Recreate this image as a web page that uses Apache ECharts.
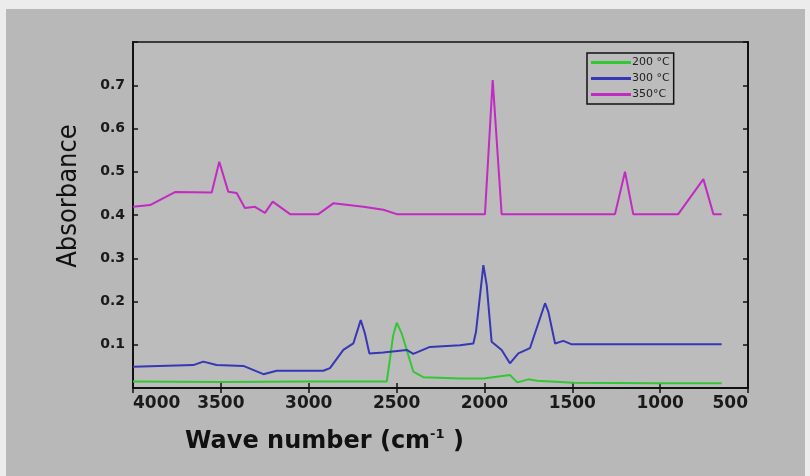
<!DOCTYPE html>
<html>
<head>
<meta charset="utf-8">
<script src="https://cdn.jsdelivr.net/npm/echarts@6/dist/echarts.min.js"></script>
<style>
  html, body { margin: 0; padding: 0; background: #ececec; }
  #main { width: 810px; height: 476px; }
</style>
</head>
<body>
<div id="main"></div>
<script>
// FTIR spectra (x = wave number cm-1, y = absorbance)
var seriesNames = ['200 °C', '300 °C', '350°C'];

var wave200 = [4000, 3500, 3000, 2556, 2540, 2520, 2499, 2470, 2442, 2405, 2348, 2139, 2006, 1855, 1813, 1750, 1700, 1494, 1000, 650];
var abs200  = [0.015, 0.014, 0.015, 0.015, 0.060, 0.120, 0.151, 0.125, 0.088, 0.038, 0.025, 0.022, 0.022, 0.030, 0.013, 0.020, 0.017, 0.012, 0.011, 0.011];

var wave300 = [4000, 3657, 3600, 3524, 3372, 3258, 3182, 2917, 2879, 2803, 2746, 2704, 2680, 2655, 2576, 2442, 2405, 2310, 2139, 2063, 2048, 2006, 1987, 1959, 1902, 1855, 1807, 1741, 1655, 1636, 1598, 1551, 1503, 650];
var abs300  = [0.049, 0.053, 0.061, 0.053, 0.051, 0.032, 0.040, 0.040, 0.046, 0.088, 0.103, 0.157, 0.126, 0.080, 0.082, 0.088, 0.079, 0.095, 0.099, 0.103, 0.130, 0.284, 0.238, 0.107, 0.088, 0.057, 0.080, 0.092, 0.196, 0.176, 0.103, 0.109, 0.101, 0.101];

var wave350 = [4000, 3903, 3761, 3552, 3509, 3458, 3410, 3363, 3306, 3249, 3205, 3106, 2945, 2860, 2689, 2575, 2499, 1997, 1953, 1902, 1257, 1200, 1153, 897, 754, 697, 650];
var abs350  = [0.419, 0.423, 0.453, 0.452, 0.523, 0.454, 0.451, 0.416, 0.419, 0.405, 0.431, 0.402, 0.402, 0.427, 0.419, 0.412, 0.402, 0.402, 0.712, 0.402, 0.402, 0.500, 0.402, 0.402, 0.483, 0.402, 0.402];

var colors = ['#33c833', '#3636b6', '#c22ac2'];

function pairs(xs, ys) {
    return xs.map(function(x, i){ return [x, ys[i]]; });
}

var myChart = echarts.init(document.getElementById('main'));

var tickStyle = { show: true, inside: true, length: 5, lineStyle: { color: '#111', width: 1.5 } };
var lineAxis = { show: true, lineStyle: { color: '#111', width: 2 } };

var option = {
    backgroundColor: '#ececec',
    animation: false,
    color: colors,
    graphic: [
        {
            type: 'rect', z: -5, silent: true,
            shape: { x: 6, y: 9, width: 799, height: 467 },
            style: { fill: '#b8b8b8' }
        },
        {
            type: 'text', x: 69, y: 196, rotation: Math.PI / 2, z: 10,
            style: {
                text: 'Absorbance',
                font: '27px "Liberation Sans Narrow", "DejaVu Sans Condensed", sans-serif',
                fill: '#111', align: 'center', verticalAlign: 'middle'
            }
        },
        {
            type: 'text', x: 185, y: 428, z: 10,
            style: {
                text: 'Wave number (cm{sup|-1} )',
                font: 'bold 24px "DejaVu Sans", sans-serif',
                fill: '#111',
                lineHeight: 28,
                rich: {
                    sup: { fontSize: 13, fontWeight: 'bold', fontFamily: 'DejaVu Sans', fill: '#111', verticalAlign: 'top', lineHeight: 28, padding: [0, 0, 12, 0] }
                }
            }
        }
    ],
    legend: {
        data: seriesNames,
        orient: 'vertical',
        left: 587,
        top: 53,
        padding: [4, 4, 4, 4],
        itemGap: 5,
        itemWidth: 40,
        itemHeight: 3,
        icon: 'rect',
        backgroundColor: '#bcbcbc',
        borderColor: '#111',
        borderWidth: 1.5,
        borderRadius: 0,
        textStyle: { fontSize: 11, color: '#222', fontFamily: 'DejaVu Sans', padding: [1, 0, 1, -4] }
    },
    grid: {
        left: 133, right: 62, top: 42, bottom: 88,
        show: true, backgroundColor: '#bcbcbc', borderColor: '#111', borderWidth: 1.5
    },
    xAxis: [
        {
            type: 'value', min: 500, max: 4000, interval: 500, inverse: true,
            axisLine: lineAxis, axisTick: tickStyle, splitLine: { show: false },
            axisLabel: {
                fontSize: 17, fontWeight: 'bold', fontFamily: 'DejaVu Sans', color: '#1a1a1a', margin: 7,
                alignMinLabel: 'right', alignMaxLabel: 'left',
                formatter: function(v){ return String(v); }
            }
        },
        {
            type: 'value', position: 'top', min: 500, max: 4000, interval: 500, inverse: true,
            axisLine: lineAxis, axisTick: tickStyle, splitLine: { show: false },
            axisLabel: { show: false }
        }
    ],
    yAxis: [
        {
            type: 'value', min: 0, max: 0.8, interval: 0.1,
            axisLine: lineAxis, axisTick: tickStyle, splitLine: { show: false },
            axisLabel: {
                fontSize: 14, fontWeight: 'bold', fontFamily: 'DejaVu Sans', color: '#1a1a1a', margin: 8,
                formatter: function(v){
                    if (v < 0.05 || v > 0.75) return '';
                    return v.toFixed(1);
                }
            }
        },
        {
            type: 'value', position: 'right', min: 0, max: 0.8, interval: 0.1,
            axisLine: lineAxis, axisTick: tickStyle, splitLine: { show: false },
            axisLabel: { show: false }
        }
    ],
    series: [
        { name: seriesNames[0], type: 'line', symbol: 'none', data: pairs(wave200, abs200), lineStyle: { width: 2 }, z: 3 },
        { name: seriesNames[1], type: 'line', symbol: 'none', data: pairs(wave300, abs300), lineStyle: { width: 2 }, z: 4 },
        { name: seriesNames[2], type: 'line', symbol: 'none', data: pairs(wave350, abs350), lineStyle: { width: 2 }, z: 5 }
    ]
};

myChart.setOption(option);
</script>
</body>
</html>
